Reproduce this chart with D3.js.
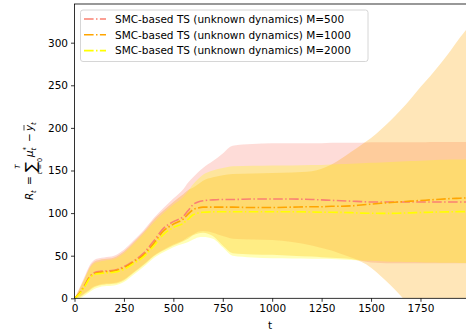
<!DOCTYPE html>
<html><head><meta charset="utf-8">
<script src="https://cdn.jsdelivr.net/npm/d3@7"></script>
<style>body{margin:0;background:#fff}svg{display:block}text{font-family:"DejaVu Sans",sans-serif}</style>
</head><body><svg id="c" width="466" height="333"></svg>
<script>
const tGrid=[0,25,50,75,100,125,150,200,250,300,350,400,450,500,550,575,600,625,650,700,750,800,900,1000,1100,1200,1250,1300,1350,1400,1450,1500,1550,1600,1650,1700,1750,1800,1850,1900,1950,1999];
const meanM500=[0,6,15,25,30,31.5,32,33,37,44,53,67,82,90,96,103,110,113,114.5,115.5,116,116,116.5,116.5,116.5,116,115.5,115,114.5,114,113.5,113,113,113,113,113,113,113,113,113,113,113];
const meanM1000=[0,6,14,24,29,30.5,31,32,36,43,51,64,79,87,93,99,104,106,107,107,107,107,106.5,106.5,107,107.5,107.5,108,108,108.5,109.5,110.5,111.5,112.5,113.3,114,114.8,115.5,116.3,117,117.5,118];
const meanM2000=[0,5,13,23,28,29,29.5,30.5,34,41,49,61,75,83,88,93,98,100,101,101.5,101.5,101.5,101.5,101.5,101.5,101.3,101,101,100.8,100.5,100,99.8,99.7,99.7,100,100.3,100.7,101,101.3,101.5,101.7,101.7];
const upM500=[0,12,25,38,45,47,48,50,57,68,80,94,106,117,128,136,142,148,153,161,170,179,181,182,182,182,182,182.5,182.5,182.5,182.5,183,183,183,183,183,183,183.5,183.5,183.5,183.5,183.5];
const loM500=[0,2,6,10,14,16,17,18,22,31,40,50,57,63,68,72,75,78,79,77,73,70,69,68.4,66,62,59,56,52,48,44,42,41.5,41,41,41,41,41,41,41,41,41];
const upM1000=[0,11,23,36,43,45,46,48,55,66,78,92,103,113,122,127,130,134,138,142,144.5,146,146.5,147,147.5,149,152,157,164,172,180,188,198,209,221,234,248,261,275,290,306,320];
const loM1000=[0,1,5,9,13,15,16,17,21,30,39,49,56,62,67,70,74,76,77,73,62,53,51.5,51,50,49,48.3,47.5,47,46,43,36,26,15,3,-9,-21,-33,-45,-57,-69,-80];
const upM2000=[0,10,22,34,41,43,44,46,53,64,76,89,100,110,119,126,134,140,145,150,153,155,155.5,156,156,156.5,156.5,157,157.5,158,158.5,159,159.5,160,160.5,161,161.5,162,162.5,163,163,163.5];
const loM2000=[0,0,3,7,11,13,14,15,19,28,37,47,54,60,64,66,69,71.5,72,70,60,50,48,47,46.8,46.5,46.3,46,45.5,45,44.5,44,43.5,43,42.8,42.5,42.3,42,41.8,41.6,41.5,41.5];
const seriesNames=["SMC-based TS (unknown dynamics) M=500","SMC-based TS (unknown dynamics) M=1000","SMC-based TS (unknown dynamics) M=2000"];
const colors=["#FA8072","#FFA500","#FFFF00"];
const xTicks=[0,250,500,750,1000,1250,1500,1750];
const yTicks=[0,50,100,150,200,250,300];

const FS=10.5;
const svg=d3.select("#c");
const L=74.5,T=4,R=469.7,B=298.3;
const x=d3.scaleLinear().domain([0,1999]).range([L,R]);
const y=d3.scaleLinear().domain([0,345.4]).range([B,T]);
svg.append("defs").append("clipPath").attr("id","clip").append("rect").attr("x",L).attr("y",T).attr("width",R-L).attr("height",B-T);
const series=[{m:meanM500,u:upM500,l:loM500},{m:meanM1000,u:upM1000,l:loM1000},{m:meanM2000,u:upM2000,l:loM2000}];
const g=svg.append("g").attr("clip-path","url(#clip)");
const area=d3.area().x((d,i)=>x(tGrid[i])).curve(d3.curveMonotoneX);
series.forEach((s,k)=>{
  g.append("path").datum(tGrid).attr("d",area.y0((d,i)=>y(s.l[i])).y1((d,i)=>y(s.u[i]))).attr("fill",colors[k]).attr("fill-opacity",0.28).attr("stroke","none");
});
const line=d3.line().x((d,i)=>x(tGrid[i])).curve(d3.curveMonotoneX);
series.forEach((s,k)=>{
  g.append("path").datum(tGrid).attr("d",line.y((d,i)=>y(s.m[i]))).attr("fill","none").attr("stroke",colors[k]).attr("stroke-width",1.6).attr("stroke-dasharray","9.6,2.4,1.5,2.4");
});
// axes
const xa=svg.append("g").attr("transform",`translate(0,${B})`).call(d3.axisBottom(x).tickValues(xTicks).tickSize(3.5).tickPadding(3).tickFormat(d3.format("d")));
const ya=svg.append("g").attr("transform",`translate(${L},0)`).call(d3.axisLeft(y).tickValues(yTicks).tickSize(3.5).tickPadding(3).tickFormat(d3.format("d")));
[xa,ya].forEach(a=>{a.select(".domain").remove();a.selectAll("text").attr("font-size",FS).attr("fill","#000").attr("font-family","DejaVu Sans");a.selectAll("line").attr("stroke","#000").attr("stroke-width",0.8);});
svg.append("rect").attr("x",L).attr("y",T).attr("width",R-L).attr("height",B-T).attr("fill","none").attr("stroke","#000").attr("stroke-width",0.8);
svg.append("text").attr("x",(L+R)/2-2).attr("y",329).attr("text-anchor","middle").attr("font-size",FS).text("t");
// y label
const yl=svg.append("g").attr("transform","translate(33,154) rotate(-90)").attr("font-size",FS);
yl.append("text").attr("x",-46).attr("y",0).attr("font-style","italic").text("R");
yl.append("text").attr("x",-39).attr("y",2.5).attr("font-size",7).attr("font-style","italic").text("t");
yl.append("text").attr("x",-31).attr("y",0).text("=");
yl.append("text").attr("x",-18).attr("y",3).attr("font-size",15).text("∑");
yl.append("text").attr("x",-12.5).attr("y",-13).attr("font-size",7).attr("font-style","italic").attr("text-anchor","middle").text("T");
yl.append("text").attr("x",-12).attr("y",9).attr("font-size",6.5).attr("text-anchor","middle").html('<tspan font-style="italic">t</tspan> = 0');
yl.append("text").attr("x",-3).attr("y",0).attr("font-style","italic").text("μ");
yl.append("text").attr("x",3.5).attr("y",-5).attr("font-size",7).text("*");
yl.append("text").attr("x",3.5).attr("y",3).attr("font-size",7).attr("font-style","italic").text("t");
yl.append("text").attr("x",12).attr("y",0).text("−");
yl.append("text").attr("x",23).attr("y",0).attr("font-style","italic").text("y");
yl.append("line").attr("x1",23.5).attr("x2",29).attr("y1",-9).attr("y2",-9).attr("stroke","#000").attr("stroke-width",0.7);
yl.append("text").attr("x",29).attr("y",2.5).attr("font-size",7).attr("font-style","italic").text("t");
// legend
const lg=svg.append("g");
lg.append("rect").attr("x",80.5).attr("y",10).attr("width",287.5).attr("height",51.5).attr("rx",2.5).attr("fill","#fff").attr("fill-opacity",0.8).attr("stroke","#cccccc").attr("stroke-width",0.8);
seriesNames.forEach((n,k)=>{
  const yy=19+k*15.8;
  lg.append("line").attr("x1",84).attr("x2",106).attr("y1",yy).attr("y2",yy).attr("stroke",colors[k]).attr("stroke-width",1.6).attr("stroke-dasharray","9.6,2.4,1.5,2.4");
  lg.append("text").attr("x",115).attr("y",yy+3.8).attr("font-size",FS).text(n);
});
</script></body></html>
